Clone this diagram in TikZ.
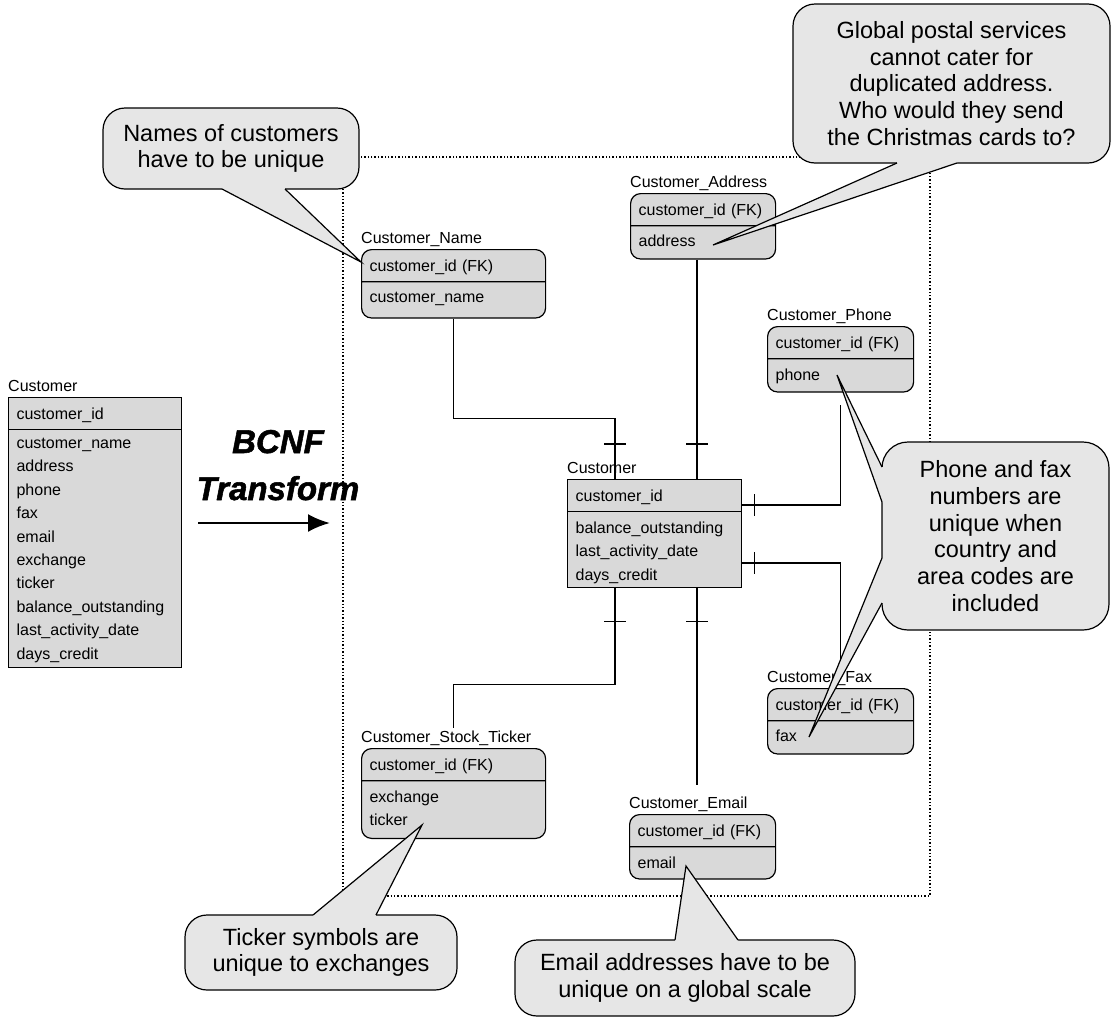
\documentclass[tikz,border=0pt]{standalone}
\usepackage{fontspec}
\setmainfont{Liberation Sans}
\newfontfamily\xformfont{Liberation Sans}[BoldItalicFeatures={FakeBold=1.6}]
\usetikzlibrary{arrows.meta,shapes.multipart}
\definecolor{tablefill}{HTML}{D9D9D9}
\definecolor{notefill}{HTML}{E6E6E6}
\newcommand{\tabfont}{\fontsize{16}{23.4}\selectfont}
\newcommand{\notefont}{\fontsize{23.5}{26.7}\selectfont}
\newcommand{\hdr}[1]{\rule[-10pt]{0pt}{31pt}#1}
\newcommand{\rowtop}[1]{\rule{0pt}{#1}}
\newcommand{\rowend}[1]{\rule[-#1]{0pt}{0pt}}

\begin{document}
\begin{tikzpicture}[
  x=1pt,y=-1pt,
  ertable/.style={rectangle split,rectangle split parts=2,draw,line width=1.2pt,
    fill=tablefill,rounded corners=10pt,inner xsep=8pt,inner ysep=0pt,
    text width=#1,align=left,font=\tabfont,anchor=north west},
  flattable/.style={ertable=#1,sharp corners},
  tabtitle/.style={font=\tabfont,anchor=base west,inner sep=0pt,yshift=6pt},
  erlink/.style={line width=1.2pt},
  areabox/.style={draw,dash pattern=on 1.4pt off 2pt,line width=1.2pt,
    inner sep=0pt,outer sep=0pt,anchor=north west},
  calloutbox/.style={draw,line width=1.2pt,fill=notefill,rounded corners=22pt,
    align=center,font=\notefont,inner sep=0pt,outer sep=0pt},
  notetail/.style={line width=1.2pt,line join=miter},
  xformtext/.style={font=\xformfont\fontsize{33}{40}\selectfont\bfseries\itshape,anchor=base},
  xformarrow/.style={-{Latex[length=22pt,width=18pt]},line width=2.5pt}
]
\useasboundingbox (0,0) rectangle (1112,1018);

% area of the new tables
\node[areabox,minimum width=587pt,minimum height=739pt] (bcnfArea) at (343,157) {};

% table before the transform
\node[flattable=157pt,label={[tabtitle]north west:Customer}] (oldcust) at (8,397)
  {\hdr{customer\_id}\nodepart{two}\rowtop{18pt}customer\_name\\address\\phone\\fax\\email\\exchange\\ticker\\balance\_outstanding\\last\_activity\_date\\days\_credit\rowend{8pt}};

\node[xformtext] (bcnf) at (278,453) {BCNF};
\node[xformtext] (xform) at (278,500) {Transform};
\coordinate (arrowStart) at (198,523);
\coordinate (arrowEnd) at (330,523);
\draw[xformarrow] (arrowStart) -- (arrowEnd);

% tables after the transform
\node[flattable=158pt,label={[tabtitle]north west:Customer}] (cust) at (567,479)
  {\hdr{customer\_id}\nodepart{two}\rowtop{21pt}balance\_outstanding\\last\_activity\_date\\days\_credit\rowend{7pt}};
\node[ertable=168pt,label={[tabtitle]north west:Customer\_Name}] (cname) at (361,249)
  {\hdr{customer\_id (FK)}\nodepart{two}\rowtop{20pt}customer\_name\rowend{15pt}};
\node[ertable=129pt,label={[tabtitle]north west:Customer\_Address}] (caddr) at (630,193)
  {\hdr{customer\_id (FK)}\nodepart{two}\rowtop{20pt}address\rowend{12pt}};
\node[ertable=130pt,label={[tabtitle]north west:Customer\_Phone}] (cphone) at (767,326)
  {\hdr{customer\_id (FK)}\nodepart{two}\rowtop{21pt}phone\rowend{11pt}};
\node[ertable=130pt,label={[tabtitle]north west:Customer\_Fax}] (cfax) at (767,688)
  {\hdr{customer\_id (FK)}\nodepart{two}\rowtop{20pt}fax\rowend{12pt}};
\node[ertable=168pt,label={[tabtitle]north west:Customer\_Stock\_Ticker}] (cstock) at (361,748)
  {\hdr{customer\_id (FK)}\nodepart{two}\rowtop{21pt}exchange\\ticker\rowend{12pt}};
\node[ertable=130pt,label={[tabtitle]north west:Customer\_Email}] (cemail) at (629,814)
  {\hdr{customer\_id (FK)}\nodepart{two}\rowtop{21pt}email\rowend{10pt}};

% relationships
\draw[erlink] (cname.south) -- ++(0,100) -| ([xshift=48pt]cust.north west);
\draw[erlink] ([xshift=67pt]caddr.south west) -- ([xshift=130pt]cust.north west);
\draw[erlink] ([yshift=-26pt]cust.north east) -| ([yshift=-12pt]cphone.south);
\draw[erlink] ([yshift=-84pt]cust.north east) -| ([yshift=20pt]cfax.north);
\draw[erlink] ([xshift=48pt]cust.south west) -- ++(0,96) -| ([yshift=20pt]cstock.north);
\draw[erlink] ([xshift=130pt]cust.south west) -- ([xshift=68pt,yshift=29pt]cemail.north west);
\draw[erlink] ([xshift=37pt,yshift=35pt]cust.north west) -- ++(22,0);
\draw[erlink] ([xshift=119pt,yshift=35pt]cust.north west) -- ++(22,0);
\draw[erlink] ([xshift=12pt,yshift=-15pt]cust.north east) -- ++(0,22);
\draw[erlink] ([xshift=12pt,yshift=-73pt]cust.north east) -- ++(0,22);
\draw[erlink] ([xshift=37pt,yshift=-33pt]cust.south west) -- ++(22,0);
\draw[erlink] ([xshift=119pt,yshift=-33pt]cust.south west) -- ++(22,0);

% callouts
\node[calloutbox,minimum width=256pt,minimum height=81pt] (nameNote) at (231,148.5)
  {Names of customers\\have to be unique};
\coordinate (nameTip) at ([yshift=-13pt]cname.north west);
\fill[notefill] ([xshift=-9pt,yshift=2pt]nameNote.south) -- ([xshift=-9pt]nameNote.south) -- (nameTip)
  -- ([xshift=54pt]nameNote.south) -- ([xshift=54pt,yshift=2pt]nameNote.south) -- cycle;
\draw[notetail] ([xshift=-9pt]nameNote.south) -- (nameTip) -- ([xshift=54pt]nameNote.south);

\node[calloutbox,minimum width=317pt,minimum height=159pt] (addrNote) at (951.5,83.5)
  {Global postal services\\cannot cater for\\duplicated address.\\Who would they send\\the Christmas cards to?};
\coordinate (addrTip) at ([xshift=83pt,yshift=-52pt]caddr.north west);
\fill[notefill] ([xshift=-54.5pt,yshift=2pt]addrNote.south) -- ([xshift=-54.5pt]addrNote.south) -- (addrTip)
  -- ([xshift=5.5pt]addrNote.south) -- ([xshift=5.5pt,yshift=2pt]addrNote.south) -- cycle;
\draw[notetail] ([xshift=-54.5pt]addrNote.south) -- (addrTip) -- ([xshift=5.5pt]addrNote.south);

\node[calloutbox,minimum width=227pt,minimum height=188pt,rounded corners=26pt] (phoneNote) at (995.5,536)
  {Phone and fax\\numbers are\\unique when\\country and\\area codes are\\included};
\coordinate (phoneTip) at ([xshift=70pt,yshift=-49pt]cphone.north west);
\coordinate (faxTip) at ([xshift=42pt,yshift=-49pt]cfax.north west);
\fill[notefill] ([xshift=2pt,yshift=69pt]phoneNote.west) -- ([yshift=69pt]phoneNote.west) -- (phoneTip)
  -- ([yshift=34pt]phoneNote.west) -- ([xshift=2pt,yshift=34pt]phoneNote.west) -- cycle;
\draw[notetail] ([yshift=69pt]phoneNote.west) -- (phoneTip) -- ([yshift=34pt]phoneNote.west);
\fill[notefill] ([xshift=2pt,yshift=-22pt]phoneNote.west) -- ([yshift=-22pt]phoneNote.west) -- (faxTip)
  -- ([yshift=-67pt]phoneNote.west) -- ([xshift=2pt,yshift=-67pt]phoneNote.west) -- cycle;
\draw[notetail] ([yshift=-22pt]phoneNote.west) -- (faxTip) -- ([yshift=-67pt]phoneNote.west);

\node[calloutbox,minimum width=272pt,minimum height=75pt] (tickNote) at (321,952.5)
  {Ticker symbols are\\unique to exchanges};
\coordinate (tickTip) at ([xshift=61pt,yshift=-77pt]cstock.north west);
\fill[notefill] ([xshift=-8pt,yshift=-2pt]tickNote.north) -- ([xshift=-8pt]tickNote.north) -- (tickTip)
  -- ([xshift=55pt]tickNote.north) -- ([xshift=55pt,yshift=-2pt]tickNote.north) -- cycle;
\draw[notetail] ([xshift=-8pt]tickNote.north) -- (tickTip) -- ([xshift=55pt]tickNote.north);

\node[calloutbox,minimum width=340pt,minimum height=76pt] (mailNote) at (685,978)
  {Email addresses have to be\\unique on a global scale};
\coordinate (mailTip) at ([xshift=57pt,yshift=-52pt]cemail.north west);
\fill[notefill] ([xshift=-10pt,yshift=-2pt]mailNote.north) -- ([xshift=-10pt]mailNote.north) -- (mailTip)
  -- ([xshift=53pt]mailNote.north) -- ([xshift=53pt,yshift=-2pt]mailNote.north) -- cycle;
\draw[notetail] ([xshift=-10pt]mailNote.north) -- (mailTip) -- ([xshift=53pt]mailNote.north);
\end{tikzpicture}
\end{document}
